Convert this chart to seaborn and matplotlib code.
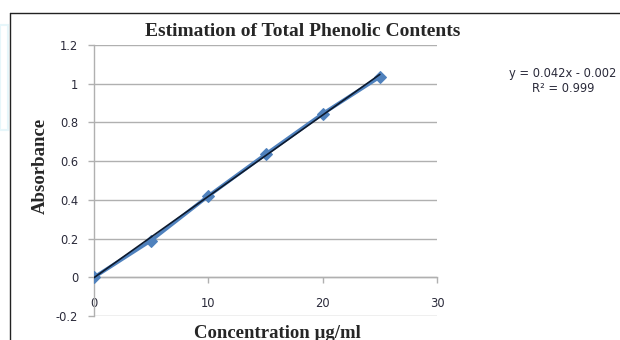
import matplotlib
matplotlib.use("Agg")
import matplotlib.pyplot as plt
import seaborn as sns
import numpy as np
import pandas as pd
from matplotlib.lines import Line2D
from matplotlib.patches import Rectangle

concentration = [0, 5, 10, 15, 20, 25]
absorbance = [0.0, 0.19, 0.42, 0.635, 0.845, 1.035]
slope = 0.042
intercept = -0.002
x_ticks = [0, 10, 20, 30]
y_ticks = [-0.2, 0, 0.2, 0.4, 0.6, 0.8, 1.0, 1.2]
y_tick_labels = ["-0.2", "0", "0.2", "0.4", "0.6", "0.8", "1", "1.2"]
title = "Estimation of Total Phenolic Contents"
x_label = "Concentration µg/ml"
y_label = "Absorbance"
eq_text = "y = 0.042x - 0.002"
r2_text = "R² = 0.999"

sns.set_theme(style="white")
plt.rcParams['font.family'] = ['DejaVu Sans']

df = pd.DataFrame({"x": concentration, "y": absorbance})
trend = pd.DataFrame({"x": [concentration[0], concentration[-1]]})
trend["y"] = slope * trend["x"] + intercept

fig = plt.figure(figsize=(6.2, 3.4), dpi=100)
ax = fig.add_axes([94/620, 1-316/340, (437-94)/620, (316-45)/340])

sns.lineplot(data=df, x="x", y="y", ax=ax, color="#4f81bd", linewidth=2.6,
             marker="D", markersize=6.5, markeredgecolor="#4f81bd", zorder=3)
sns.lineplot(data=trend, x="x", y="y", ax=ax, color="#0d1a2e", linewidth=1.2, zorder=4)

ax.set_xlim(0, 30)
ax.set_ylim(-0.2, 1.2)
ax.set_yticks(y_ticks)
ax.set_yticklabels(y_tick_labels)
ax.set_xticks(x_ticks)
ax.set_xticklabels([str(t) for t in x_ticks])
ax.grid(axis="y", color="#b0b0b0", linewidth=1.0)
ax.set_axisbelow(True)

for s in ["top", "right"]:
    ax.spines[s].set_visible(False)
ax.spines["left"].set_color("#b0b0b0")
ax.spines["left"].set_linewidth(1.0)
ax.spines["bottom"].set_position(("data", 0))
ax.spines["bottom"].set_color("#b0b0b0")
ax.spines["bottom"].set_linewidth(1.0)

ax.tick_params(axis="y", which="both", left=True, length=4.5, width=1, color="#b0b0b0",
               labelsize=8.3, labelcolor="#2a2a3a", pad=7)
ax.tick_params(axis="x", which="both", bottom=True, direction="out", length=4, width=1,
               color="#b0b0b0", labelsize=8.3, labelcolor="#2a2a3a", pad=10)

ax.set_xlabel("")
ax.set_ylabel("")

fig.text(303/620, 1-31/340, title, ha="center", va="center",
         family="Liberation Serif", fontweight="bold", fontsize=14)
fig.text(277/620, 1-333/340, x_label, ha="center", va="center",
         family="Liberation Serif", fontweight="bold", fontsize=13.5)
fig.text(40/620, 1-166/340, y_label, ha="center", va="center", rotation=90,
         family="Liberation Serif", fontweight="bold", fontsize=13.5)

fig.text(563/620, 1-73/340, eq_text, ha="center", va="center", fontsize=8.3, color="#2a2a3a")
fig.text(563/620, 1-89/340, r2_text, ha="center", va="center", fontsize=8.3, color="#2a2a3a")

# outer chart frame
fig.add_artist(Line2D([10/620, 1.0], [1-13/340, 1-13/340], transform=fig.transFigure,
                      color="#222222", linewidth=1.0))
fig.add_artist(Line2D([10/620, 10/620], [1-13/340, 0.0], transform=fig.transFigure,
                      color="#222222", linewidth=1.0))
fig.add_artist(Rectangle((0, 1-130/340), 8/620, 105/340, transform=fig.transFigure,
                         facecolor="none", edgecolor="#e6f6fa", linewidth=1.5))

fig.savefig("out.png", dpi=100)
